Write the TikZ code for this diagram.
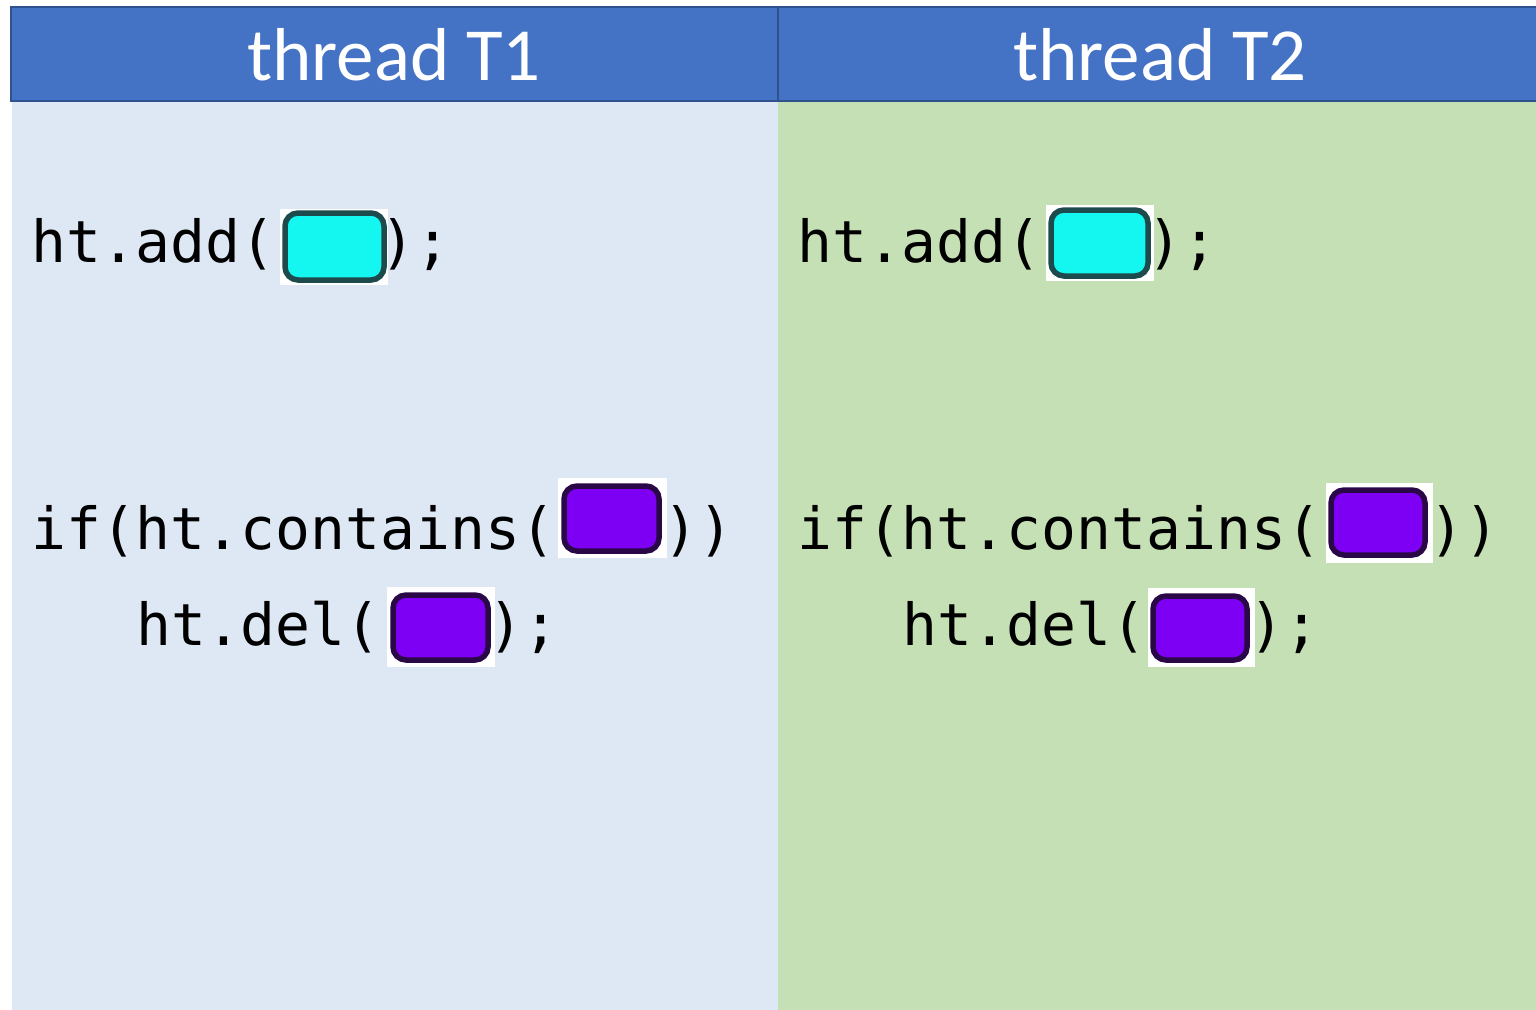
\documentclass[tikz,border=0pt]{standalone}
\usepackage{fontspec}
\setmainfont{Carlito}
\newfontfamily\codefont{DejaVu Sans Mono}
\definecolor{hdrblue}{HTML}{4472C4}
\definecolor{hdrline}{HTML}{2F528F}
\definecolor{paneblue}{HTML}{DEE8F4}
\definecolor{panegreen}{HTML}{C5E0B4}
\definecolor{cyanfill}{HTML}{14F6F0}
\definecolor{cyanline}{HTML}{1D4A4C}
\definecolor{purplefill}{HTML}{7E00F4}
\definecolor{purpleline}{HTML}{2A0848}
\tikzset{
  hdrtext/.style={text=white, font=\fontsize{75}{80}\selectfont, inner sep=0pt, anchor=base},
  code/.style={font=\codefont\fontsize{58}{60}\selectfont, text=black, inner sep=0pt, anchor=base west},
  tokbg/.style={fill=white, draw=none},
  cyantok/.style={fill=cyanfill, draw=cyanline, line width=5.5pt, rounded corners=13pt},
  purpletok/.style={fill=purplefill, draw=purpleline, line width=5.5pt, rounded corners=13pt},
}
\begin{document}
\begin{tikzpicture}[x=1pt,y=-1pt]
\useasboundingbox (0,0) rectangle (1536,1009);
\fill[white] (0,0) rectangle (1536,1009);
% panels
\fill[paneblue] (12,100) rectangle (778,1012);
\fill[panegreen] (778,100) rectangle (1545,1012);
% header
\draw[fill=hdrblue, draw=hdrline, line width=2pt] (11,6.5) rectangle (1545,100.5);
\draw[hdrline, line width=1.5pt] (778,6.5) -- (778,100.5);
\node[hdrtext] (h1) at (394,80) {thread T1};
\node[hdrtext] (h2) at (1160,80) {thread T2};

% ---------- thread T1 ----------
\node[code] (a1) at (31,262) {ht.add(};
\fill[tokbg] (280,209) rectangle (388,285);
\draw[cyantok] (285,213) rectangle (384,280);
\node[code] (a1e) at (380,262) {);};

\node[code] (c1) at (31,549) {if(ht.contains(};
\fill[tokbg] (558,478) rectangle (667,558);
\draw[purpletok] (564,486) rectangle (659,551);
\node[code] (c1e) at (663,549) {))};

\node[code] (d1) at (136,645) {ht.del(};
\fill[tokbg] (387,587) rectangle (495,667);
\draw[purpletok] (393,595) rectangle (488,660);
\node[code] (d1e) at (488,645) {);};

% ---------- thread T2 ----------
\node[code] (a2) at (797,262) {ht.add(};
\fill[tokbg] (1046,205) rectangle (1154,281);
\draw[cyantok] (1051,210) rectangle (1148,276);
\node[code] (a2e) at (1147,262) {);};

\node[code] (c2) at (797,549) {if(ht.contains(};
\fill[tokbg] (1326,483) rectangle (1433,563);
\draw[purpletok] (1331,490) rectangle (1425,555);
\node[code] (c2e) at (1429,549) {))};

\node[code] (d2) at (902,645) {ht.del(};
\fill[tokbg] (1148,588) rectangle (1255,667);
\draw[purpletok] (1153,596) rectangle (1247,660);
\node[code] (d2e) at (1249,645) {);};
\end{tikzpicture}
\end{document}
